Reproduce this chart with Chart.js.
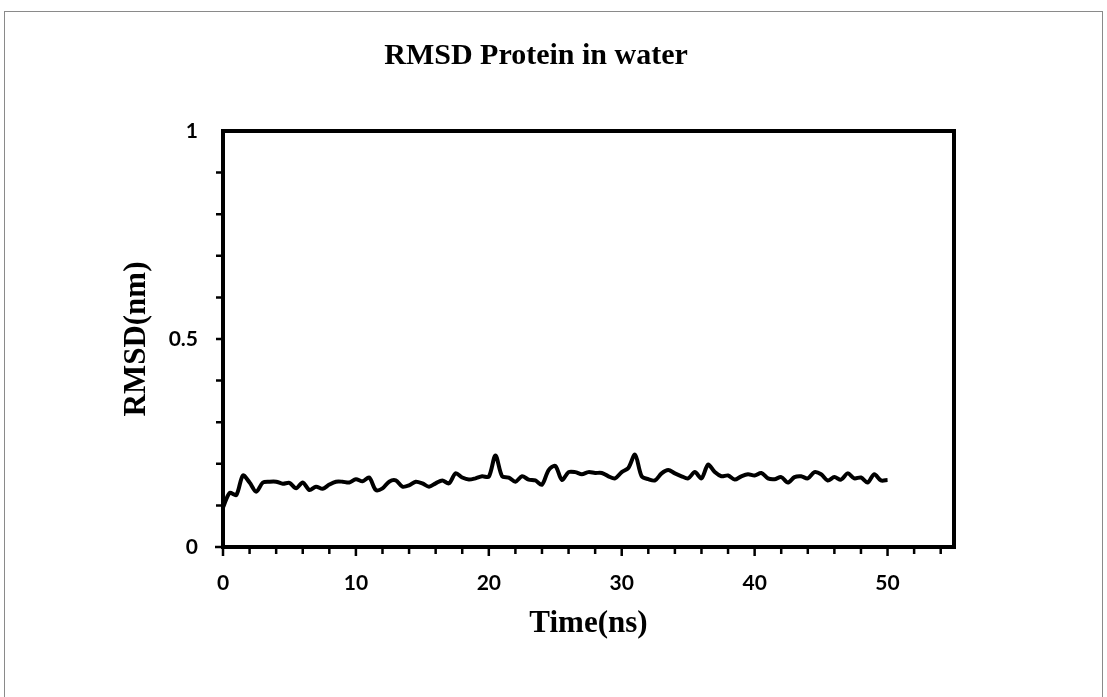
<!DOCTYPE html>
<html>
<head>
<meta charset="utf-8">
<script src="https://cdn.jsdelivr.net/npm/chart.js@4.4.1/dist/chart.umd.min.js"></script>
<style>
  html, body { margin: 0; padding: 0; background: #fff; }
  #wrap { width: 1107px; height: 697px; }
</style>
</head>
<body>
<div id="wrap"><canvas id="rmsdChart" width="1107" height="697"></canvas></div>
<script>
// RMSD 數據 (ns, nm)
const chartTitle = 'RMSD Protein in water';
const xTitle = 'Time(ns)';
const yTitle = 'RMSD(nm)';
const yTickLabels = [0, 0.5, 1];

const timeNs = [
  0, 0.5, 1, 1.5, 2, 2.5, 3, 3.5, 4, 4.5,
  5, 5.5, 6, 6.5, 7, 7.5, 8, 8.5, 9, 9.5,
  10, 10.5, 11, 11.5, 12, 12.5, 13, 13.5, 14, 14.5,
  15, 15.5, 16, 16.5, 17, 17.5, 18, 18.5, 19, 19.5,
  20, 20.5, 21, 21.5, 22, 22.5, 23, 23.5, 24, 24.5,
  25, 25.5, 26, 26.5, 27, 27.5, 28, 28.5, 29, 29.5,
  30, 30.5, 31, 31.5, 32, 32.5, 33, 33.5, 34, 34.5,
  35, 35.5, 36, 36.5, 37, 37.5, 38, 38.5, 39, 39.5,
  40, 40.5, 41, 41.5, 42, 42.5, 43, 43.5, 44, 44.5,
  45, 45.5, 46, 46.5, 47, 47.5, 48, 48.5, 49, 49.5,
  50
];

const rmsdNm = [
  0.095, 0.130, 0.125, 0.172, 0.155, 0.133, 0.155, 0.157, 0.157, 0.152,
  0.154, 0.141, 0.155, 0.137, 0.145, 0.140, 0.150, 0.157, 0.157, 0.155,
  0.163, 0.158, 0.167, 0.137, 0.141, 0.157, 0.160, 0.145, 0.148, 0.157,
  0.153, 0.145, 0.153, 0.160, 0.153, 0.177, 0.167, 0.162, 0.165, 0.170,
  0.169, 0.220, 0.170, 0.167, 0.157, 0.170, 0.162, 0.160, 0.150, 0.185,
  0.195, 0.161, 0.180, 0.180, 0.175, 0.180, 0.178, 0.178, 0.170, 0.165,
  0.180, 0.190, 0.222, 0.170, 0.163, 0.160, 0.177, 0.185, 0.177, 0.170,
  0.165, 0.180, 0.165, 0.198, 0.180, 0.170, 0.172, 0.162, 0.170, 0.175,
  0.172, 0.178, 0.165, 0.163, 0.168, 0.155, 0.168, 0.170, 0.165, 0.180,
  0.175, 0.160, 0.168, 0.162, 0.177, 0.165, 0.167, 0.155, 0.175, 0.160,
  0.161
];

// 外框與刻度
const framePlugin = {
  id: 'frame',
  beforeDraw(chart) {
    const ctx = chart.ctx;
    ctx.save();
    ctx.strokeStyle = '#8a8a8a';
    ctx.lineWidth = 1;
    ctx.strokeRect(4.5, 11.5, 1098, 720);
    ctx.restore();
  },
  afterDraw(chart) {
    const ctx = chart.ctx;
    const area = chart.chartArea;
    const xs = chart.scales.x;
    const ys = chart.scales.y;
    ctx.save();
    ctx.strokeStyle = '#000';
    ctx.lineWidth = 4;
    ctx.strokeRect(area.left, area.top, area.right - area.left, area.bottom - area.top);

    ctx.lineWidth = 2.5;
    ctx.beginPath();
    for (let v = 2; v <= 54; v += 2) {
      const px = xs.getPixelForValue(v);
      ctx.moveTo(px, area.bottom);
      ctx.lineTo(px, area.bottom + (v % 10 === 0 ? 9 : 7));
    }
    const x0 = xs.getPixelForValue(0);
    ctx.moveTo(x0, area.bottom - 6);
    ctx.lineTo(x0, area.bottom + 9);
    for (let i = 1; i < 10; i++) {
      const py = ys.getPixelForValue(i / 10);
      ctx.moveTo(area.left - 7, py);
      ctx.lineTo(area.left, py);
    }
    const y0 = ys.getPixelForValue(0);
    ctx.moveTo(area.left - 8, y0);
    ctx.lineTo(area.left + 6, y0);
    ctx.stroke();
    ctx.restore();
  }
};

const ctx = document.getElementById('rmsdChart').getContext('2d');
const chart = new Chart(ctx, {
  type: 'line',
  data: {
    datasets: [{
      data: timeNs.map((t, i) => ({ x: t, y: rmsdNm[i] })),
      borderColor: '#000',
      borderWidth: 4,
      pointRadius: 0,
      tension: 0.3,
      fill: false
    }]
  },
  options: {
    responsive: false,
    animation: false,
    layout: {
      padding: { left: 118, right: 153, top: 0, bottom: 54 }
    },
    plugins: {
      legend: { display: false },
      tooltip: { enabled: false },
      title: {
        display: true,
        text: chartTitle,
        color: '#000',
        font: { family: 'Liberation Serif', size: 30, weight: 'bold' },
        padding: { top: 38, bottom: 57 }
      }
    },
    scales: {
      x: {
        type: 'linear',
        min: 0,
        max: 55,
        grid: { display: false, drawTicks: false },
        border: { display: false },
        ticks: {
          stepSize: 10,
          padding: 24,
          color: '#000',
          font: { family: 'Lato', size: 21, weight: 'bold' },
          maxRotation: 0,
          callback: v => (v % 10 === 0 ? v : '')
        },
        title: {
          display: true,
          text: xTitle,
          color: '#000',
          font: { family: 'Liberation Serif', size: 31, weight: 'bold' },
          padding: { top: 0, bottom: 0 }
        },
        afterFit: scale => { scale.height = 96; }
      },
      y: {
        min: 0,
        max: 1,
        grid: { display: false, drawTicks: false },
        border: { display: false },
        afterBuildTicks: scale => {
          scale.ticks = yTickLabels.map(v => ({ value: v }));
        },
        ticks: {
          padding: 25,
          color: '#000',
          font: { family: 'Lato', size: 21, weight: 'bold' },
          callback: v => v
        },
        title: {
          display: true,
          text: yTitle,
          color: '#000',
          font: { family: 'Liberation Serif', size: 31, weight: 'bold' },
          padding: { top: 0, bottom: 0 }
        },
        afterFit: scale => { scale.width = 105; }
      }
    }
  },
  plugins: [framePlugin]
});
</script>
</body>
</html>
